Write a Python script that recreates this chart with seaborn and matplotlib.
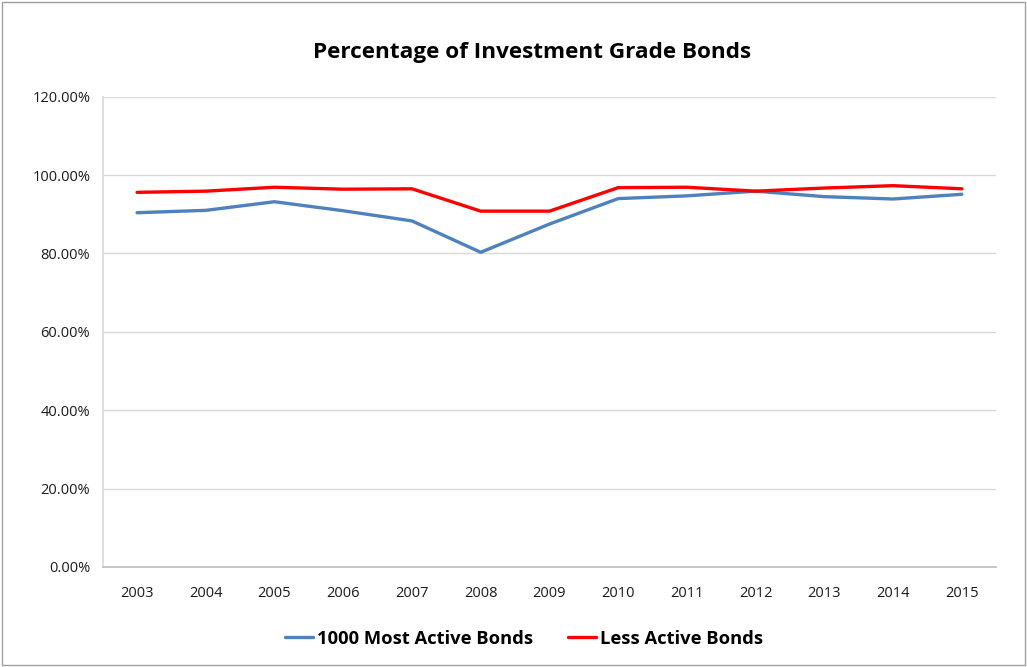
import matplotlib
matplotlib.use("Agg")
import matplotlib.pyplot as plt
import seaborn as sns
import pandas as pd
from matplotlib.ticker import FuncFormatter
from matplotlib.patches import Rectangle

years = ["2003", "2004", "2005", "2006", "2007", "2008", "2009",
         "2010", "2011", "2012", "2013", "2014", "2015"]
most_active = [90.4, 91.0, 93.2, 90.9, 88.3, 80.3, 87.5, 94.0, 94.7, 95.9, 94.5, 93.9, 95.1]
less_active = [95.6, 95.9, 96.9, 96.4, 96.5, 90.8, 90.8, 96.8, 96.9, 95.9, 96.7, 97.3, 96.5]
series_names = ["1000 Most Active Bonds", "Less Active Bonds"]
colors = ["#4f81bd", "#ff0000"]

df = pd.concat([
    pd.DataFrame({"Year": years, "Value": most_active, "Series": series_names[0]}),
    pd.DataFrame({"Year": years, "Value": less_active, "Series": series_names[1]}),
])

sns.set_theme(style="white")
plt.rcParams["font.family"] = ["Open Sans", "DejaVu Sans"]

fig = plt.figure(figsize=(10.27, 6.67), dpi=100)
ax = fig.add_axes([0.100, 0.150, 0.870, 0.705])

sns.lineplot(data=df, x="Year", y="Value", hue="Series", palette=colors,
             linewidth=2.4, ax=ax, sort=False, legend=True)

ax.set_ylim(0, 120)
ax.set_yticks(range(0, 121, 20))
ax.yaxis.set_major_formatter(FuncFormatter(lambda v, p: f"{v:.2f}%"))
ax.set_xlim(-0.5, len(years) - 0.5)
ax.grid(axis="y", color="#d9d9d9", linewidth=1.0)
ax.set_axisbelow(True)
for s in ["top", "right"]:
    ax.spines[s].set_visible(False)
ax.spines["left"].set_color("#d9d9d9")
ax.spines["bottom"].set_color("#bfbfbf")
ax.tick_params(axis="both", labelsize=10.5, colors="#1a1a1a", length=0)
ax.tick_params(axis="x", pad=14)
ax.tick_params(axis="y", pad=9)
ax.set_xlabel("")
ax.set_ylabel("")

fig.suptitle("Percentage of Investment Grade Bonds", x=0.518, y=0.937,
             fontsize=16.2, fontweight="bold", color="black")

handles, labels = ax.get_legend_handles_labels()
ax.legend(handles, labels, loc="upper center", bbox_to_anchor=(0.472, -0.098),
          ncol=2, frameon=False,
          prop={"weight": "bold", "size": 13.2},
          handlelength=1.5, handletextpad=0.25, columnspacing=1.9,
          labelcolor="black")

fig.add_artist(Rectangle((0.002, 0.003), 0.996, 0.994, transform=fig.transFigure,
                         fill=False, edgecolor="#a0a0a0", linewidth=1))

fig.savefig("out.png", dpi=100)
